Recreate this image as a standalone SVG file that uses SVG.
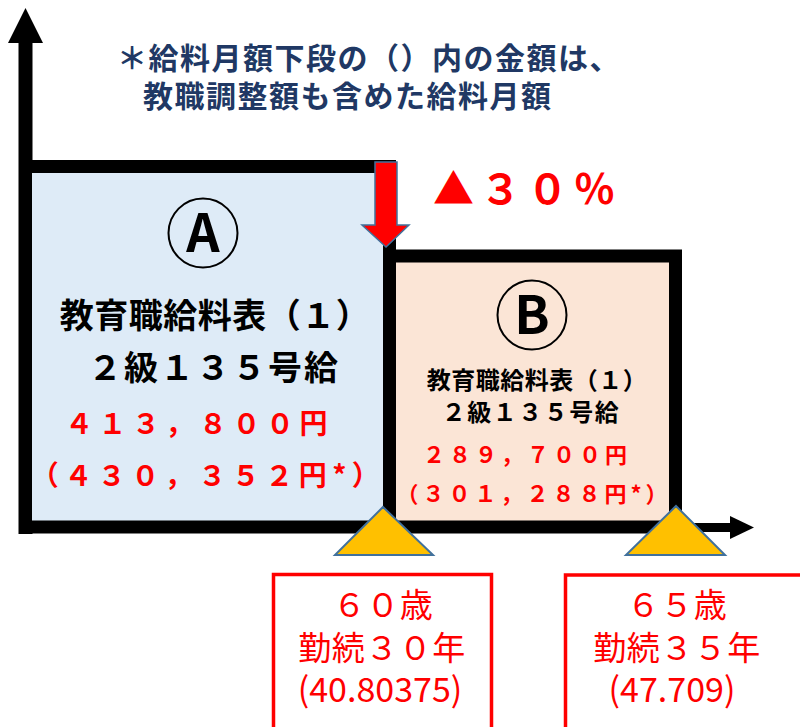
<svg xmlns="http://www.w3.org/2000/svg" width="800" height="727" viewBox="0 0 800 727">
<defs>
<style>
.jp{font-family:"Noto Sans CJK JP","Noto Sans",sans-serif;}
.b{font-weight:bold;}
.note{fill:#203864;font-size:30px;font-weight:bold;letter-spacing:1.5px;}
.blk{fill:#000;}
.red{fill:#FF0000;}
.box{stroke:#000;stroke-width:13;}
.tri{fill:#FFC000;stroke:#41719C;stroke-width:2;}
.lbl{fill:none;stroke:#FF0000;stroke-width:3.5;}
.circ{fill:none;stroke:#000;stroke-width:2;}
</style>
</defs>
<rect width="800" height="727" fill="#fff"/>
<g id="note">
<text class="jp note" x="117" y="69">＊給料月額下段の（）内の金額は、</text>
<text class="jp note" x="143" y="107">教職調整額も含めた給料月額</text>
</g>
<g id="axes">
<line x1="25.5" y1="40" x2="25.5" y2="534" stroke="#000" stroke-width="14"/>
<polygon points="25.5,8 43,43 8,43" fill="#000"/>
<line x1="680" y1="527.5" x2="732" y2="527.5" stroke="#000" stroke-width="9"/>
<polygon points="730,516 754,527.5 730,539" fill="#000"/>
</g>
<g id="nodeA">
<rect class="box" x="25.5" y="166.5" width="364" height="360.5" fill="#DEEBF7"/>
<circle class="circ" cx="203" cy="233" r="34.5"/>
<text class="jp b blk" x="203" y="252" font-size="52" text-anchor="middle">A</text>
<text class="jp b blk" x="215" y="328" font-size="34" text-anchor="middle" letter-spacing="0.5">教育職給料表（１）</text>
<text class="jp b blk" x="214" y="380" font-size="34" text-anchor="middle" letter-spacing="2">２級１３５号給</text>
<text class="jp b red" x="199" y="434" font-size="28" text-anchor="middle" letter-spacing="5.5">４１３，８００円</text>
<text class="jp b red" x="208" y="486" font-size="28" text-anchor="middle" letter-spacing="5.5">（４３０，３５２円*）</text>
</g>
<g id="nodeB">
<rect class="box" x="389.5" y="256" width="286" height="271" fill="#FBE5D6"/>
<circle class="circ" cx="532" cy="315" r="34.5"/>
<text class="jp b blk" x="532" y="334" font-size="52" text-anchor="middle">B</text>
<text class="jp b blk" x="537" y="389" font-size="24" text-anchor="middle" letter-spacing="0.5">教育職給料表（１）</text>
<text class="jp b blk" x="531" y="421" font-size="24" text-anchor="middle" letter-spacing="1.5">２級１３５号給</text>
<text class="jp b red" x="527" y="463" font-size="22" text-anchor="middle" letter-spacing="4">２８９，７００円</text>
<text class="jp b red" x="534" y="502" font-size="22" text-anchor="middle" letter-spacing="4">（３０１，２８８円*）</text>
</g>
<g id="decrease">
<polygon points="375,162 397,162 397,225 409,225 386,247 362,225 375,225" fill="#FF0000" stroke="#41719C" stroke-width="1.5"/>
<text class="jp b red" x="433" y="204" font-size="41" letter-spacing="6">▲３０％</text>
</g>
<g id="marker60">
<polygon class="tri" points="383,507 433,555 335,555"/>
</g>
<g id="marker65">
<polygon class="tri" points="676,506 725,555 626,555"/>
</g>
<g id="label60">
<rect class="lbl" x="273.5" y="574.5" width="218" height="170"/>
<text class="jp red" x="383" y="617" font-size="33" text-anchor="middle" letter-spacing="0.5">６０歳</text>
<text class="jp red" x="382" y="660" font-size="33" text-anchor="middle" letter-spacing="0.5">勤続３０年</text>
<text class="jp red" x="380" y="702" font-size="34" text-anchor="middle">(40.80375)</text>
</g>
<g id="label65">
<rect class="lbl" x="565.5" y="575" width="270" height="170"/>
<text class="jp red" x="677" y="617" font-size="33" text-anchor="middle" letter-spacing="0.5">６５歳</text>
<text class="jp red" x="677" y="660" font-size="33" text-anchor="middle" letter-spacing="0.5">勤続３５年</text>
<text class="jp red" x="672" y="702" font-size="34" text-anchor="middle">(47.709)</text>
</g>
</svg>
